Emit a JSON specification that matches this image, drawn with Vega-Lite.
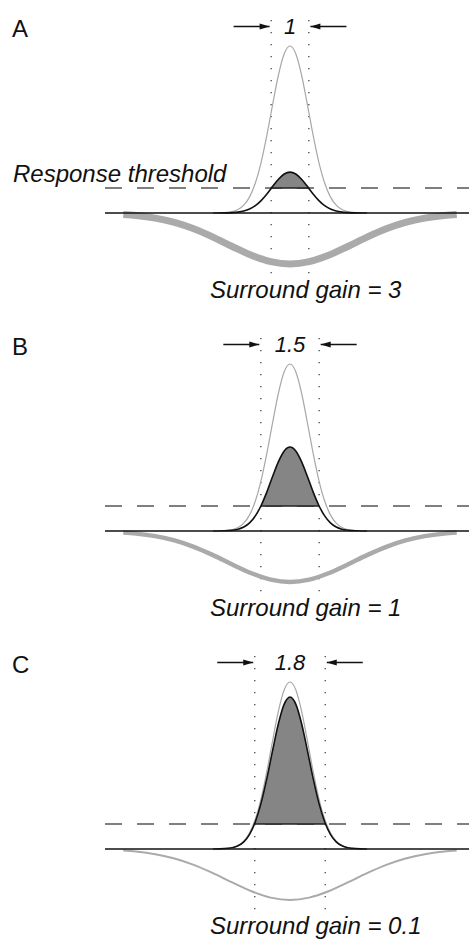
{
  "$schema": "https://vega.github.io/schema/vega-lite/v6.json",
  "padding": 0,
  "bounds": "flush",
  "background": "white",
  "config": {"view": {"stroke": null}, "font": "Liberation Sans"},
  "data": {"values": [
    {"panel":"A","kind":"letter","text":"A"},
    {"panel":"B","kind":"letter","text":"B"},
    {"panel":"C","kind":"letter","text":"C"},
    {"panel":"A","kind":"wlabel","text":"1"},
    {"panel":"B","kind":"wlabel","text":"1.5"},
    {"panel":"C","kind":"wlabel","text":"1.8"},
    {"panel":"A","kind":"glabel","text":"Surround gain = 3"},
    {"panel":"B","kind":"glabel","text":"Surround gain = 1"},
    {"panel":"C","kind":"glabel","text":"Surround gain = 0.1"},
    {"panel":"A","kind":"tlabel","text":"Response threshold"},

    {"panel":"A","kind":"vl","x":-0.49},{"panel":"A","kind":"vl","x":0.49},
    {"panel":"B","kind":"vl","x":-0.757},{"panel":"B","kind":"vl","x":0.757},
    {"panel":"C","kind":"vl","x":-0.915},{"panel":"C","kind":"vl","x":0.915},

    {"panel":"A","kind":"arrow","x":-1.465,"x2":-0.53,"ang":0},{"panel":"A","kind":"arrow","x":1.465,"x2":0.53,"ang":180},
    {"panel":"B","kind":"arrow","x":-1.732,"x2":-0.797,"ang":0},{"panel":"B","kind":"arrow","x":1.732,"x2":0.797,"ang":180},
    {"panel":"C","kind":"arrow","x":-1.89,"x2":-0.955,"ang":0},{"panel":"C","kind":"arrow","x":1.89,"x2":0.955,"ang":180},

    {"panel":"A","kind":"cut","lo":-0.481,"hi":0.481},
    {"panel":"B","kind":"cut","lo":-0.756,"hi":0.756},
    {"panel":"C","kind":"cut","lo":-0.922,"hi":0.922},

    {"panel":"A","kind":"surr","gain":3,"x":-4.33,"y":-0.0092},{"panel":"A","kind":"surr","gain":3,"x":-4,"y":-0.0154},{"panel":"A","kind":"surr","gain":3,"x":-3.5,"y":-0.031},{"panel":"A","kind":"surr","gain":3,"x":-3,"y":-0.0568},{"panel":"A","kind":"surr","gain":3,"x":-2.5,"y":-0.0949},{"panel":"A","kind":"surr","gain":3,"x":-2,"y":-0.1445},{"panel":"A","kind":"surr","gain":3,"x":-1.5,"y":-0.2004},{"panel":"A","kind":"surr","gain":3,"x":-1,"y":-0.2531},{"panel":"A","kind":"surr","gain":3,"x":-0.5,"y":-0.2911},{"panel":"A","kind":"surr","gain":3,"x":0,"y":-0.305},{"panel":"A","kind":"surr","gain":3,"x":0.5,"y":-0.2911},{"panel":"A","kind":"surr","gain":3,"x":1,"y":-0.2531},{"panel":"A","kind":"surr","gain":3,"x":1.5,"y":-0.2004},{"panel":"A","kind":"surr","gain":3,"x":2,"y":-0.1445},{"panel":"A","kind":"surr","gain":3,"x":2.5,"y":-0.0949},{"panel":"A","kind":"surr","gain":3,"x":3,"y":-0.0568},{"panel":"A","kind":"surr","gain":3,"x":3.5,"y":-0.031},{"panel":"A","kind":"surr","gain":3,"x":4,"y":-0.0154},{"panel":"A","kind":"surr","gain":3,"x":4.33,"y":-0.0092},
    {"panel":"B","kind":"surr","gain":1,"x":-4.33,"y":-0.0092},{"panel":"B","kind":"surr","gain":1,"x":-4,"y":-0.0154},{"panel":"B","kind":"surr","gain":1,"x":-3.5,"y":-0.031},{"panel":"B","kind":"surr","gain":1,"x":-3,"y":-0.0568},{"panel":"B","kind":"surr","gain":1,"x":-2.5,"y":-0.0949},{"panel":"B","kind":"surr","gain":1,"x":-2,"y":-0.1445},{"panel":"B","kind":"surr","gain":1,"x":-1.5,"y":-0.2004},{"panel":"B","kind":"surr","gain":1,"x":-1,"y":-0.2531},{"panel":"B","kind":"surr","gain":1,"x":-0.5,"y":-0.2911},{"panel":"B","kind":"surr","gain":1,"x":0,"y":-0.305},{"panel":"B","kind":"surr","gain":1,"x":0.5,"y":-0.2911},{"panel":"B","kind":"surr","gain":1,"x":1,"y":-0.2531},{"panel":"B","kind":"surr","gain":1,"x":1.5,"y":-0.2004},{"panel":"B","kind":"surr","gain":1,"x":2,"y":-0.1445},{"panel":"B","kind":"surr","gain":1,"x":2.5,"y":-0.0949},{"panel":"B","kind":"surr","gain":1,"x":3,"y":-0.0568},{"panel":"B","kind":"surr","gain":1,"x":3.5,"y":-0.031},{"panel":"B","kind":"surr","gain":1,"x":4,"y":-0.0154},{"panel":"B","kind":"surr","gain":1,"x":4.33,"y":-0.0092},
    {"panel":"C","kind":"surr","gain":0.1,"x":-4.33,"y":-0.0092},{"panel":"C","kind":"surr","gain":0.1,"x":-4,"y":-0.0154},{"panel":"C","kind":"surr","gain":0.1,"x":-3.5,"y":-0.031},{"panel":"C","kind":"surr","gain":0.1,"x":-3,"y":-0.0568},{"panel":"C","kind":"surr","gain":0.1,"x":-2.5,"y":-0.0949},{"panel":"C","kind":"surr","gain":0.1,"x":-2,"y":-0.1445},{"panel":"C","kind":"surr","gain":0.1,"x":-1.5,"y":-0.2004},{"panel":"C","kind":"surr","gain":0.1,"x":-1,"y":-0.2531},{"panel":"C","kind":"surr","gain":0.1,"x":-0.5,"y":-0.2911},{"panel":"C","kind":"surr","gain":0.1,"x":0,"y":-0.305},{"panel":"C","kind":"surr","gain":0.1,"x":0.5,"y":-0.2911},{"panel":"C","kind":"surr","gain":0.1,"x":1,"y":-0.2531},{"panel":"C","kind":"surr","gain":0.1,"x":1.5,"y":-0.2004},{"panel":"C","kind":"surr","gain":0.1,"x":2,"y":-0.1445},{"panel":"C","kind":"surr","gain":0.1,"x":2.5,"y":-0.0949},{"panel":"C","kind":"surr","gain":0.1,"x":3,"y":-0.0568},{"panel":"C","kind":"surr","gain":0.1,"x":3.5,"y":-0.031},{"panel":"C","kind":"surr","gain":0.1,"x":4,"y":-0.0154},{"panel":"C","kind":"surr","gain":0.1,"x":4.33,"y":-0.0092},

    {"panel":"A","kind":"center","x":-2,"y":0},{"panel":"A","kind":"center","x":-1.7,"y":0.0022},{"panel":"A","kind":"center","x":-1.5,"y":0.0085},{"panel":"A","kind":"center","x":-1.35,"y":0.021},{"panel":"A","kind":"center","x":-1.2,"y":0.0473},{"panel":"A","kind":"center","x":-1.05,"y":0.0966},{"panel":"A","kind":"center","x":-0.9,"y":0.1796},{"panel":"A","kind":"center","x":-0.75,"y":0.3036},{"panel":"A","kind":"center","x":-0.6,"y":0.4663},{"panel":"A","kind":"center","x":-0.45,"y":0.651},{"panel":"A","kind":"center","x":-0.3,"y":0.8263},{"panel":"A","kind":"center","x":-0.15,"y":0.9534},{"panel":"A","kind":"center","x":0,"y":1},{"panel":"A","kind":"center","x":0.15,"y":0.9534},{"panel":"A","kind":"center","x":0.3,"y":0.8263},{"panel":"A","kind":"center","x":0.45,"y":0.651},{"panel":"A","kind":"center","x":0.6,"y":0.4663},{"panel":"A","kind":"center","x":0.75,"y":0.3036},{"panel":"A","kind":"center","x":0.9,"y":0.1796},{"panel":"A","kind":"center","x":1.05,"y":0.0966},{"panel":"A","kind":"center","x":1.2,"y":0.0473},{"panel":"A","kind":"center","x":1.35,"y":0.021},{"panel":"A","kind":"center","x":1.5,"y":0.0085},{"panel":"A","kind":"center","x":1.7,"y":0.0022},{"panel":"A","kind":"center","x":2,"y":0},
    {"panel":"B","kind":"center","x":-2,"y":0},{"panel":"B","kind":"center","x":-1.7,"y":0.0022},{"panel":"B","kind":"center","x":-1.5,"y":0.0085},{"panel":"B","kind":"center","x":-1.35,"y":0.021},{"panel":"B","kind":"center","x":-1.2,"y":0.0473},{"panel":"B","kind":"center","x":-1.05,"y":0.0966},{"panel":"B","kind":"center","x":-0.9,"y":0.1796},{"panel":"B","kind":"center","x":-0.75,"y":0.3036},{"panel":"B","kind":"center","x":-0.6,"y":0.4663},{"panel":"B","kind":"center","x":-0.45,"y":0.651},{"panel":"B","kind":"center","x":-0.3,"y":0.8263},{"panel":"B","kind":"center","x":-0.15,"y":0.9534},{"panel":"B","kind":"center","x":0,"y":1},{"panel":"B","kind":"center","x":0.15,"y":0.9534},{"panel":"B","kind":"center","x":0.3,"y":0.8263},{"panel":"B","kind":"center","x":0.45,"y":0.651},{"panel":"B","kind":"center","x":0.6,"y":0.4663},{"panel":"B","kind":"center","x":0.75,"y":0.3036},{"panel":"B","kind":"center","x":0.9,"y":0.1796},{"panel":"B","kind":"center","x":1.05,"y":0.0966},{"panel":"B","kind":"center","x":1.2,"y":0.0473},{"panel":"B","kind":"center","x":1.35,"y":0.021},{"panel":"B","kind":"center","x":1.5,"y":0.0085},{"panel":"B","kind":"center","x":1.7,"y":0.0022},{"panel":"B","kind":"center","x":2,"y":0},
    {"panel":"C","kind":"center","x":-2,"y":0},{"panel":"C","kind":"center","x":-1.7,"y":0.0022},{"panel":"C","kind":"center","x":-1.5,"y":0.0085},{"panel":"C","kind":"center","x":-1.35,"y":0.021},{"panel":"C","kind":"center","x":-1.2,"y":0.0473},{"panel":"C","kind":"center","x":-1.05,"y":0.0966},{"panel":"C","kind":"center","x":-0.9,"y":0.1796},{"panel":"C","kind":"center","x":-0.75,"y":0.3036},{"panel":"C","kind":"center","x":-0.6,"y":0.4663},{"panel":"C","kind":"center","x":-0.45,"y":0.651},{"panel":"C","kind":"center","x":-0.3,"y":0.8263},{"panel":"C","kind":"center","x":-0.15,"y":0.9534},{"panel":"C","kind":"center","x":0,"y":1},{"panel":"C","kind":"center","x":0.15,"y":0.9534},{"panel":"C","kind":"center","x":0.3,"y":0.8263},{"panel":"C","kind":"center","x":0.45,"y":0.651},{"panel":"C","kind":"center","x":0.6,"y":0.4663},{"panel":"C","kind":"center","x":0.75,"y":0.3036},{"panel":"C","kind":"center","x":0.9,"y":0.1796},{"panel":"C","kind":"center","x":1.05,"y":0.0966},{"panel":"C","kind":"center","x":1.2,"y":0.0473},{"panel":"C","kind":"center","x":1.35,"y":0.021},{"panel":"C","kind":"center","x":1.5,"y":0.0085},{"panel":"C","kind":"center","x":1.7,"y":0.0022},{"panel":"C","kind":"center","x":2,"y":0},

    {"panel":"A","kind":"dog","x":-2,"y":0},{"panel":"A","kind":"dog","x":-1.7,"y":0.0005},{"panel":"A","kind":"dog","x":-1.5,"y":0.0021},{"panel":"A","kind":"dog","x":-1.35,"y":0.0051},{"panel":"A","kind":"dog","x":-1.2,"y":0.0116},{"panel":"A","kind":"dog","x":-1.05,"y":0.0237},{"panel":"A","kind":"dog","x":-0.9,"y":0.044},{"panel":"A","kind":"dog","x":-0.75,"y":0.0744},{"panel":"A","kind":"dog","x":-0.6,"y":0.1142},{"panel":"A","kind":"dog","x":-0.45,"y":0.1595},{"panel":"A","kind":"dog","x":-0.3,"y":0.2024},{"panel":"A","kind":"dog","x":-0.15,"y":0.2336},{"panel":"A","kind":"dog","x":0,"y":0.245},{"panel":"A","kind":"dog","x":0.15,"y":0.2336},{"panel":"A","kind":"dog","x":0.3,"y":0.2024},{"panel":"A","kind":"dog","x":0.45,"y":0.1595},{"panel":"A","kind":"dog","x":0.6,"y":0.1142},{"panel":"A","kind":"dog","x":0.75,"y":0.0744},{"panel":"A","kind":"dog","x":0.9,"y":0.044},{"panel":"A","kind":"dog","x":1.05,"y":0.0237},{"panel":"A","kind":"dog","x":1.2,"y":0.0116},{"panel":"A","kind":"dog","x":1.35,"y":0.0051},{"panel":"A","kind":"dog","x":1.5,"y":0.0021},{"panel":"A","kind":"dog","x":1.7,"y":0.0005},{"panel":"A","kind":"dog","x":2,"y":0},
    {"panel":"B","kind":"dog","x":-2,"y":0},{"panel":"B","kind":"dog","x":-1.7,"y":0.0011},{"panel":"B","kind":"dog","x":-1.5,"y":0.0043},{"panel":"B","kind":"dog","x":-1.35,"y":0.0106},{"panel":"B","kind":"dog","x":-1.2,"y":0.0238},{"panel":"B","kind":"dog","x":-1.05,"y":0.0486},{"panel":"B","kind":"dog","x":-0.9,"y":0.0903},{"panel":"B","kind":"dog","x":-0.75,"y":0.1527},{"panel":"B","kind":"dog","x":-0.6,"y":0.2345},{"panel":"B","kind":"dog","x":-0.45,"y":0.3275},{"panel":"B","kind":"dog","x":-0.3,"y":0.4156},{"panel":"B","kind":"dog","x":-0.15,"y":0.4796},{"panel":"B","kind":"dog","x":0,"y":0.503},{"panel":"B","kind":"dog","x":0.15,"y":0.4796},{"panel":"B","kind":"dog","x":0.3,"y":0.4156},{"panel":"B","kind":"dog","x":0.45,"y":0.3275},{"panel":"B","kind":"dog","x":0.6,"y":0.2345},{"panel":"B","kind":"dog","x":0.75,"y":0.1527},{"panel":"B","kind":"dog","x":0.9,"y":0.0903},{"panel":"B","kind":"dog","x":1.05,"y":0.0486},{"panel":"B","kind":"dog","x":1.2,"y":0.0238},{"panel":"B","kind":"dog","x":1.35,"y":0.0106},{"panel":"B","kind":"dog","x":1.5,"y":0.0043},{"panel":"B","kind":"dog","x":1.7,"y":0.0011},{"panel":"B","kind":"dog","x":2,"y":0},
    {"panel":"C","kind":"dog","x":-2,"y":0},{"panel":"C","kind":"dog","x":-1.7,"y":0.002},{"panel":"C","kind":"dog","x":-1.5,"y":0.0077},{"panel":"C","kind":"dog","x":-1.35,"y":0.0191},{"panel":"C","kind":"dog","x":-1.2,"y":0.043},{"panel":"C","kind":"dog","x":-1.05,"y":0.0879},{"panel":"C","kind":"dog","x":-0.9,"y":0.1634},{"panel":"C","kind":"dog","x":-0.75,"y":0.2763},{"panel":"C","kind":"dog","x":-0.6,"y":0.4243},{"panel":"C","kind":"dog","x":-0.45,"y":0.5924},{"panel":"C","kind":"dog","x":-0.3,"y":0.7519},{"panel":"C","kind":"dog","x":-0.15,"y":0.8676},{"panel":"C","kind":"dog","x":0,"y":0.91},{"panel":"C","kind":"dog","x":0.15,"y":0.8676},{"panel":"C","kind":"dog","x":0.3,"y":0.7519},{"panel":"C","kind":"dog","x":0.45,"y":0.5924},{"panel":"C","kind":"dog","x":0.6,"y":0.4243},{"panel":"C","kind":"dog","x":0.75,"y":0.2763},{"panel":"C","kind":"dog","x":0.9,"y":0.1634},{"panel":"C","kind":"dog","x":1.05,"y":0.0879},{"panel":"C","kind":"dog","x":1.2,"y":0.043},{"panel":"C","kind":"dog","x":1.35,"y":0.0191},{"panel":"C","kind":"dog","x":1.5,"y":0.0077},{"panel":"C","kind":"dog","x":1.7,"y":0.002},{"panel":"C","kind":"dog","x":2,"y":0},

    {"panel":"A","kind":"fill","x":-0.481,"y":0.15},{"panel":"A","kind":"fill","x":-0.45,"y":0.1595},{"panel":"A","kind":"fill","x":-0.3,"y":0.2024},{"panel":"A","kind":"fill","x":-0.15,"y":0.2336},{"panel":"A","kind":"fill","x":0,"y":0.245},{"panel":"A","kind":"fill","x":0.15,"y":0.2336},{"panel":"A","kind":"fill","x":0.3,"y":0.2024},{"panel":"A","kind":"fill","x":0.45,"y":0.1595},{"panel":"A","kind":"fill","x":0.481,"y":0.15},
    {"panel":"B","kind":"fill","x":-0.756,"y":0.15},{"panel":"B","kind":"fill","x":-0.75,"y":0.1527},{"panel":"B","kind":"fill","x":-0.6,"y":0.2345},{"panel":"B","kind":"fill","x":-0.45,"y":0.3275},{"panel":"B","kind":"fill","x":-0.3,"y":0.4156},{"panel":"B","kind":"fill","x":-0.15,"y":0.4796},{"panel":"B","kind":"fill","x":0,"y":0.503},{"panel":"B","kind":"fill","x":0.15,"y":0.4796},{"panel":"B","kind":"fill","x":0.3,"y":0.4156},{"panel":"B","kind":"fill","x":0.45,"y":0.3275},{"panel":"B","kind":"fill","x":0.6,"y":0.2345},{"panel":"B","kind":"fill","x":0.75,"y":0.1527},{"panel":"B","kind":"fill","x":0.756,"y":0.15},
    {"panel":"C","kind":"fill","x":-0.922,"y":0.15},{"panel":"C","kind":"fill","x":-0.9,"y":0.1634},{"panel":"C","kind":"fill","x":-0.75,"y":0.2763},{"panel":"C","kind":"fill","x":-0.6,"y":0.4243},{"panel":"C","kind":"fill","x":-0.45,"y":0.5924},{"panel":"C","kind":"fill","x":-0.3,"y":0.7519},{"panel":"C","kind":"fill","x":-0.15,"y":0.8676},{"panel":"C","kind":"fill","x":0,"y":0.91},{"panel":"C","kind":"fill","x":0.15,"y":0.8676},{"panel":"C","kind":"fill","x":0.3,"y":0.7519},{"panel":"C","kind":"fill","x":0.45,"y":0.5924},{"panel":"C","kind":"fill","x":0.6,"y":0.4243},{"panel":"C","kind":"fill","x":0.75,"y":0.2763},{"panel":"C","kind":"fill","x":0.9,"y":0.1634},{"panel":"C","kind":"fill","x":0.922,"y":0.15}
  ]},
  "facet": {"row": {"field": "panel", "type": "nominal", "title": null, "header": null}},
  "spacing": 28,
  "spec": {
    "width": 469,
    "height": 290,
    "layer": [
      {
        "transform": [{"filter": "datum.kind == 'vl'"}],
        "mark": {"type": "rule", "color": "#444", "strokeWidth": 1.3, "strokeDash": [1.3, 10.7]},
        "encoding": {
          "x": {"field": "x", "type": "quantitative", "scale": {"domain": [-7.53247, 4.64935], "nice": false, "zero": false}, "axis": null},
          "y": {"datum": 1.1557, "type": "quantitative", "scale": {"domain": [-0.46108, 1.27545], "nice": false, "zero": false}, "axis": null},
          "y2": {"datum": -0.3772}
        }
      },
      {
        "transform": [{"filter": "datum.kind == 'letter'"}],
        "mark": {"type": "rule", "color": "#555", "strokeWidth": 1.5, "strokeDash": [17, 15]},
        "encoding": {
          "x": {"datum": -4.805, "type": "quantitative"},
          "x2": {"datum": 4.65},
          "y": {"datum": 0.15, "type": "quantitative"}
        }
      },
      {
        "transform": [{"filter": "datum.kind == 'surr'"}],
        "mark": {"type": "line", "color": "#aaaaaa", "interpolate": "monotone", "strokeCap": "butt"},
        "encoding": {
          "x": {"field": "x", "type": "quantitative"},
          "y": {"field": "y", "type": "quantitative"},
          "strokeWidth": {"field": "gain", "type": "quantitative", "scale": {"type": "sqrt", "domain": [0.1, 3], "range": [2, 7], "zero": false}, "legend": null}
        }
      },
      {
        "transform": [{"filter": "datum.kind == 'letter'"}],
        "mark": {"type": "rule", "color": "#111", "strokeWidth": 1.3},
        "encoding": {
          "x": {"datum": -4.805, "type": "quantitative"},
          "x2": {"datum": 4.65},
          "y": {"datum": 0, "type": "quantitative"}
        }
      },
      {
        "transform": [{"filter": "datum.kind == 'fill'"}],
        "mark": {"type": "area", "color": "#858585", "interpolate": "monotone", "opacity": 1},
        "encoding": {
          "x": {"field": "x", "type": "quantitative"},
          "y": {"field": "y", "type": "quantitative"},
          "y2": {"datum": 0.15}
        }
      },
      {
        "transform": [{"filter": "datum.kind == 'cut'"}],
        "mark": {"type": "rule", "color": "#222", "strokeWidth": 1.5},
        "encoding": {
          "x": {"field": "lo", "type": "quantitative"},
          "x2": {"field": "hi"},
          "y": {"datum": 0.15, "type": "quantitative"}
        }
      },
      {
        "transform": [{"filter": "datum.kind == 'center'"}],
        "mark": {"type": "line", "color": "#a8a8a8", "strokeWidth": 1.2, "interpolate": "monotone"},
        "encoding": {
          "x": {"field": "x", "type": "quantitative"},
          "y": {"field": "y", "type": "quantitative"}
        }
      },
      {
        "transform": [{"filter": "datum.kind == 'dog'"}],
        "mark": {"type": "line", "color": "#111", "strokeWidth": 1.6, "interpolate": "monotone"},
        "encoding": {
          "x": {"field": "x", "type": "quantitative"},
          "y": {"field": "y", "type": "quantitative"}
        }
      },
      {
        "transform": [{"filter": "datum.kind == 'arrow'"}],
        "mark": {"type": "rule", "color": "#111", "strokeWidth": 1.4},
        "encoding": {
          "x": {"field": "x", "type": "quantitative"},
          "x2": {"field": "x2"},
          "y": {"datum": 1.1168, "type": "quantitative"}
        }
      },
      {
        "transform": [{"filter": "datum.kind == 'arrow'"}],
        "mark": {"type": "point", "shape": "M0,0L-2,-0.6L-2,0.6Z", "filled": true, "color": "#111", "size": 100, "opacity": 1},
        "encoding": {
          "x": {"field": "x2", "type": "quantitative"},
          "y": {"datum": 1.1168, "type": "quantitative"},
          "angle": {"field": "ang", "type": "quantitative", "scale": null}
        }
      },
      {
        "transform": [{"filter": "datum.kind == 'letter'"}],
        "mark": {"type": "text", "align": "left", "baseline": "alphabetic", "fontSize": 24, "color": "#111"},
        "encoding": {
          "x": {"datum": -7.221, "type": "quantitative"},
          "y": {"datum": 1.0509, "type": "quantitative"},
          "text": {"field": "text"}
        }
      },
      {
        "transform": [{"filter": "datum.kind == 'wlabel'"}],
        "mark": {"type": "text", "align": "center", "baseline": "alphabetic", "fontSize": 22, "fontStyle": "italic", "color": "#111"},
        "encoding": {
          "x": {"datum": 0, "type": "quantitative"},
          "y": {"datum": 1.0719, "type": "quantitative"},
          "text": {"field": "text"}
        }
      },
      {
        "transform": [{"filter": "datum.kind == 'glabel'"}],
        "mark": {"type": "text", "align": "left", "baseline": "alphabetic", "fontSize": 24, "fontStyle": "italic", "color": "#111"},
        "encoding": {
          "x": {"datum": -2.078, "type": "quantitative"},
          "y": {"datum": -0.509, "type": "quantitative"},
          "text": {"field": "text"}
        }
      },
      {
        "transform": [{"filter": "datum.kind == 'tlabel'"}],
        "mark": {"type": "text", "align": "left", "baseline": "alphabetic", "fontSize": 24, "fontStyle": "italic", "color": "#111"},
        "encoding": {
          "x": {"datum": -7.195, "type": "quantitative"},
          "y": {"datum": 0.1856, "type": "quantitative"},
          "text": {"field": "text"}
        }
      }
    ]
  }
}
